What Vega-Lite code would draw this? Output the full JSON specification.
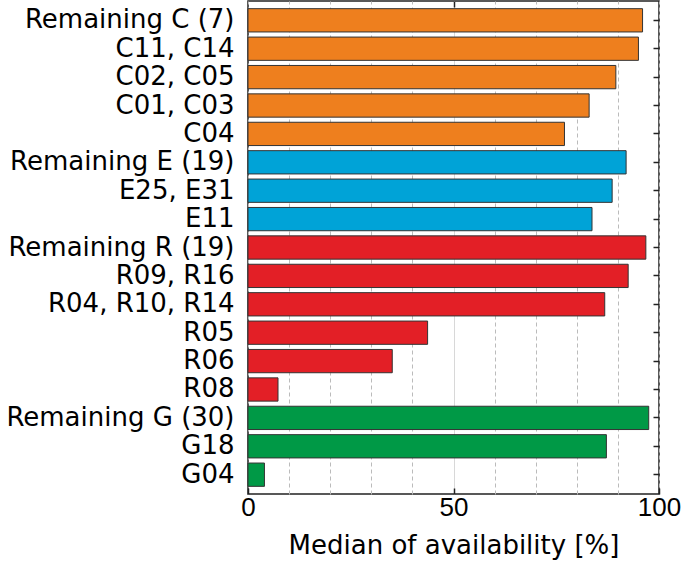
{
  "$schema": "https://vega.github.io/schema/vega-lite/v6.json",
  "width": 411,
  "height": 493,
  "autosize": "none",
  "padding": {"left": 248, "top": 1, "right": 26, "bottom": 70},
  "config": {
    "font": "DejaVu Sans",
    "view": {"stroke": "#222", "strokeWidth": 1.5},
    "axis": {"labelFont": "DejaVu Sans", "titleFont": "DejaVu Sans", "labelColor": "#000", "titleColor": "#000"}
  },
  "data": {
    "values": [
      {"name": "Remaining C (7)", "group": "C", "value": 96.0},
      {"name": "C11, C14", "group": "C", "value": 95.0},
      {"name": "C02, C05", "group": "C", "value": 89.5},
      {"name": "C01, C03", "group": "C", "value": 83.0},
      {"name": "C04", "group": "C", "value": 77.0},
      {"name": "Remaining E (19)", "group": "E", "value": 92.0},
      {"name": "E25, E31", "group": "E", "value": 88.6},
      {"name": "E11", "group": "E", "value": 83.7},
      {"name": "Remaining R (19)", "group": "R", "value": 96.8},
      {"name": "R09, R16", "group": "R", "value": 92.5},
      {"name": "R04, R10, R14", "group": "R", "value": 86.8},
      {"name": "R05", "group": "R", "value": 43.7},
      {"name": "R06", "group": "R", "value": 35.1},
      {"name": "R08", "group": "R", "value": 7.3},
      {"name": "Remaining G (30)", "group": "G", "value": 97.5},
      {"name": "G18", "group": "G", "value": 87.2},
      {"name": "G04", "group": "G", "value": 4.0}
    ]
  },
  "layer": [
    {
      "mark": {"type": "bar", "stroke": "#333", "strokeWidth": 1},
      "encoding": {
        "y": {
          "field": "name", "type": "nominal", "sort": null,
          "scale": {"paddingInner": 0.18, "paddingOuter": 0.27},
          "axis": {
            "title": null, "labelFontSize": 26, "labelPadding": 20,
            "tickSize": -6, "tickColor": "#222", "tickWidth": 1.5,
            "domain": false, "labelLimit": 300
          }
        },
        "x": {
          "field": "value", "type": "quantitative",
          "scale": {"domain": [0, 100], "nice": false},
          "axis": {
            "title": "Median of availability [%]",
            "titleFontSize": 26, "titleFontWeight": "normal", "titlePadding": 12,
            "labelFont": "Liberation Sans", "labelFontSize": 26, "labelPadding": 6, "labelFlush": false,
            "values": [0, 10, 20, 30, 40, 50, 60, 70, 80, 90, 100],
            "labelExpr": "datum.value % 50 === 0 ? datum.label : ''",
            "tickSize": -6, "tickColor": "#222", "tickWidth": 1.5,
            "tickOpacity": {"condition": {"test": "datum.value % 50 === 0", "value": 1}, "value": 0},
            "domain": false,
            "grid": true,
            "gridColor": {"condition": {"test": "datum.value === 50", "value": "#d8d8d8"}, "value": "#bbbbbb"},
            "gridDash": {"condition": {"test": "datum.value === 50", "value": []}, "value": [4, 3]},
            "gridWidth": 1
          }
        },
        "color": {
          "field": "group", "type": "nominal", "legend": null,
          "scale": {"domain": ["C", "E", "R", "G"], "range": ["#EE7F1E", "#00A3D7", "#E31F26", "#009946"]}
        }
      }
    },
    {
      "mark": {"type": "bar", "opacity": 0},
      "encoding": {
        "y": {
          "field": "name", "type": "nominal", "sort": null,
          "axis": {"orient": "right", "title": null, "labels": false, "tickSize": -6, "tickColor": "#222", "tickWidth": 1.5, "domain": false}
        },
        "x": {
          "field": "value", "type": "quantitative",
          "axis": {"orient": "top", "title": null, "labels": false, "values": [50], "tickSize": -6, "tickColor": "#222", "tickWidth": 1.5, "domain": false, "grid": false}
        }
      }
    }
  ],
  "resolve": {"axis": {"x": "independent", "y": "independent"}}
}
